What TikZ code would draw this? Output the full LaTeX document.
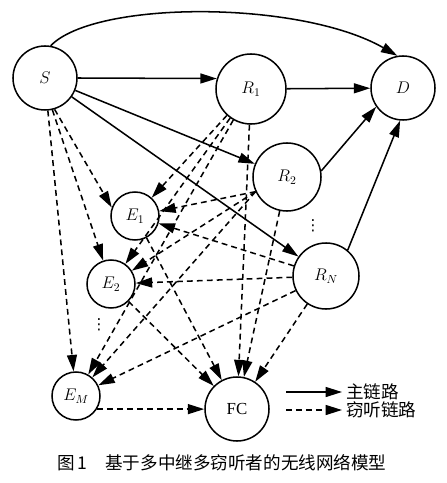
\documentclass[tikz,border=0pt]{standalone}
\usepackage{fontspec}
\setmainfont{Liberation Serif}
\newfontfamily\cjk{Noto Sans CJK SC}
\newfontfamily\symf{DejaVu Sans}
\usetikzlibrary{arrows.meta}
\begin{document}
\begin{tikzpicture}[x=0.03cm,y=-0.03cm,
	mainlink/.style={line width=1.3pt,-{Triangle[length=14pt,width=8.5pt]}},
	taplink/.style={mainlink,dash pattern=on 5pt off 3.5pt},
	bignode/.style={draw,shape=circle,line width=1.3pt,inner sep=0pt,minimum size=1.98cm,font=\Large},
	smallnode/.style={bignode,minimum size=1.44cm},
	textnode/.style={font=\fontsize{15}{17}\selectfont\cjk},
	dotnode/.style={font=\fontsize{13}{15}\selectfont\symf,inner sep=0pt}]
\useasboundingbox (0,0) rectangle (446,483);
\node[bignode,minimum size=1.92cm,name=S] at (45,78){$S$};
\node[bignode,minimum size=2.1cm,name=R1] at (251,89){$R_1$};
\node[bignode,minimum size=1.92cm,name=D] at (403,88){$D$};
\node[bignode,minimum size=2.04cm,name=R2] at (287,177){$R_2$};
\node[bignode,name=RN] at (326,276){$R_N$};
\node[smallnode,name=E1] at (135,216){$E_1$};
\node[smallnode,name=E2] at (111,284){$E_2$};
\node[smallnode,name=EM] at (76,396){$E_M$};
\node[bignode,minimum size=1.92cm,name=FC] at (237,409){FC};
\node[dotnode,name=dotsR] at (313,226){⋮};
\node[dotnode,name=dotsE] at (99,325){⋮};
\draw[mainlink] (S.0)--(R1.163);
\draw[mainlink] (R1)--(D);
\foreach \y in {R2,RN}{
	\draw[mainlink] (S)--(\y);
};
\draw[mainlink] (R2.10)--(D.215);
\draw[mainlink] (RN.50)--(D.265);
\draw[mainlink] (S.80) .. controls (95,0) and (300,0) .. (D.100);
\foreach \x/\y in {S.275/EM,S.283/E2,S.287/E1.160,R2.205/E1,R2.205/E2,R2.205/EM}{
	\draw[taplink] (\x)--(\y);
};
\foreach \x in {R1,RN}{
	\foreach \y in {E1,E2,EM}{
		\draw[taplink] (\x)--(\y);
	};
};
\foreach \x in {R1,R2,RN,E1,E2}{
	\draw[taplink] (\x)--(FC);
};
\draw[taplink] (EM.-32)--(EM.-32 -| FC.west);
\coordinate (lgMainStart) at (286,392);
\coordinate (lgTapStart) at (286,410);
\node[textnode,anchor=west,name=lgMain] at (342,392){主链路};
\node[textnode,anchor=west,name=lgTap] at (342,410){窃听链路};
\draw[mainlink] (lgMainStart)--(lgMain.west);
\draw[taplink] (lgTapStart)--(lgTap.west);
\node[textnode,name=caption] at (222,463){图\,1\quad 基于多中继多窃听者的无线网络模型};
\end{tikzpicture}
\end{document}
